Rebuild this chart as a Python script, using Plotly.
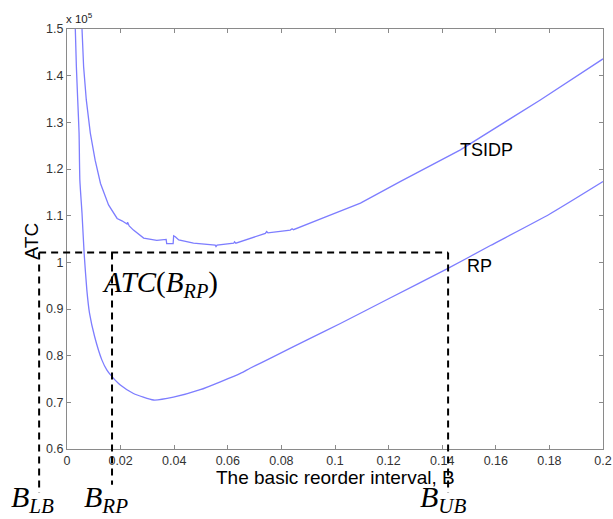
import plotly.graph_objects as go

# ---- data (ATC in units of 1e5) ----
rp_x = [0.0031, 0.0035, 0.0040, 0.0045, 0.0048, 0.0056, 0.0064, 0.0074, 0.0084,
        0.0103, 0.0130, 0.0149, 0.0168, 0.0199, 0.0248, 0.0323, 0.0397, 0.0497,
        0.0647, 0.0683, 0.0771, 0.0896, 0.1020, 0.1200, 0.1418, 0.1580, 0.1800,
        0.2000]
rp_y = [1.500, 1.419, 1.348, 1.277, 1.176, 1.105, 1.019, 0.941, 0.891,
        0.841, 0.791, 0.769, 0.755, 0.737, 0.719, 0.705, 0.711, 0.727,
        0.762, 0.773, 0.798, 0.834, 0.869, 0.922, 0.986, 1.036, 1.103,
        1.173]

ts_x = [0.0056, 0.0062, 0.0072, 0.0087, 0.0105, 0.0125, 0.0155, 0.0187,
        0.0205, 0.0218, 0.0224, 0.0226, 0.0232, 0.0248, 0.0286, 0.0335, 0.0370,
        0.0372, 0.0396, 0.0398, 0.0404, 0.0417, 0.0472, 0.0553, 0.0556, 0.0560,
        0.0622, 0.0625, 0.0630, 0.0740, 0.0745, 0.0750, 0.0833, 0.0840, 0.0845,
        0.0963, 0.1095, 0.1243, 0.1468, 0.1766, 0.2000]
ts_y = [1.500, 1.419, 1.348, 1.277, 1.219, 1.169, 1.123, 1.094,
        1.089, 1.084, 1.082, 1.086, 1.078, 1.069, 1.052, 1.047, 1.049,
        1.040, 1.040, 1.057, 1.055, 1.048, 1.041, 1.037, 1.034, 1.037,
        1.041, 1.044, 1.041, 1.062, 1.066, 1.063, 1.069, 1.072, 1.070,
        1.097, 1.127, 1.173, 1.241, 1.348, 1.436]

x_ticks = [0, 0.02, 0.04, 0.06, 0.08, 0.1, 0.12, 0.14, 0.16, 0.18, 0.2]
y_ticks = [0.6, 0.7, 0.8, 0.9, 1.0, 1.1, 1.2, 1.3, 1.4, 1.5]

# reference markers
B_LB = -0.0104
B_RP = 0.0168
B_UB = 0.1422
ATC_RP = 1.021

XR = [0, 0.2]
YR = [0.6, 1.5]

def xp(v):
    return (v - XR[0]) / (XR[1] - XR[0])

def yp(v):
    return (v - YR[0]) / (YR[1] - YR[0])

LINE = "rgb(125,125,255)"
AX = "#8a8a8a"
SANS = "Arial, Liberation Sans, sans-serif"
SERIF = "Times New Roman, Liberation Serif, serif"

fig = go.Figure()
fig.add_trace(go.Scatter(x=rp_x, y=rp_y, mode="lines", name="RP",
                         line=dict(color=LINE, width=1.3, shape="spline", smoothing=0.5)))
fig.add_trace(go.Scatter(x=ts_x, y=ts_y, mode="lines", name="TSIDP",
                         line=dict(color=LINE, width=1.3)))

dash = dict(color="black", width=2, dash="7px,5px")
bottom = -0.104
fig.add_shape(type="line", xref="paper", yref="paper",
              x0=xp(B_LB), x1=xp(B_UB), y0=yp(ATC_RP), y1=yp(ATC_RP), line=dash)
fig.add_shape(type="line", xref="paper", yref="paper",
              x0=xp(B_LB), x1=xp(B_LB), y0=yp(ATC_RP), y1=bottom, line=dash)
fig.add_shape(type="line", xref="paper", yref="paper",
              x0=xp(B_RP), x1=xp(B_RP), y0=yp(ATC_RP), y1=-0.085, line=dash)
fig.add_shape(type="line", xref="paper", yref="paper",
              x0=xp(B_UB), x1=xp(B_UB), y0=yp(ATC_RP), y1=bottom, line=dash)

def ann(text, x, y, size, family=SANS, xanchor="left", yanchor="middle", angle=0, color="black"):
    fig.add_annotation(text=text, x=x, y=y, xref="paper", yref="paper",
                       showarrow=False, xanchor=xanchor, yanchor=yanchor,
                       textangle=angle, font=dict(size=size, family=family, color=color))

ann("TSIDP", 0.729, 0.711, 18)
ann("RP", 0.742, 0.436, 18)
ann("ATC", -0.0665, 0.495, 19, xanchor="center", angle=-90)
ann("The basic reorder interval, B", 0.5, -0.068, 19, xanchor="center")
ann("x 10<sup>5</sup>", -0.006, 1.026, 11.5, color="#222")
ann("<i>ATC</i>(<i>B<sub>RP</sub></i>)", 0.062, 0.393, 29, family=SERIF)
ann("<i>B<sub>LB</sub></i>", -0.108, -0.12, 30, family=SERIF)
ann("<i>B<sub>RP</sub></i>", 0.028, -0.12, 30, family=SERIF)
ann("<i>B<sub>UB</sub></i>", 0.655, -0.118, 30, family=SERIF)

axis_common = dict(showline=True, mirror="ticks", linecolor=AX, linewidth=1.3,
                   ticks="inside", ticklen=4, tickcolor=AX, tickwidth=1,
                   showgrid=False, zeroline=False, automargin=False,
                   tickfont=dict(family=SANS, size=12.5, color="#333"))

fig.update_xaxes(range=XR, tickvals=x_ticks,
                 ticktext=[("%g" % v) for v in x_ticks], **axis_common)
fig.update_yaxes(range=YR, tickvals=y_ticks,
                 ticktext=[("%g" % v) for v in y_ticks], **axis_common)

fig.update_layout(width=613, height=519, showlegend=False, autosize=False,
                  margin=dict(l=67, r=10, t=29, b=70, autoexpand=False),
                  paper_bgcolor="white", plot_bgcolor="white")

fig.write_html("out.html")
